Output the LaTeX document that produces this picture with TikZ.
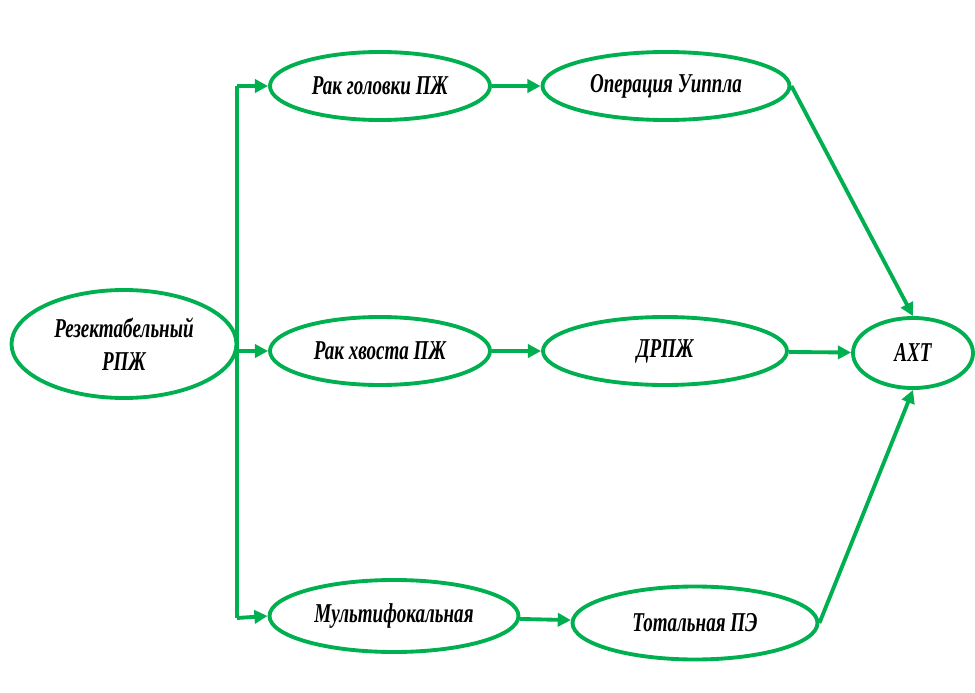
\documentclass[tikz,border=0pt]{standalone}
\usepackage{fontspec}
\setmainfont{Liberation Serif}[FakeStretch=0.7]
\usetikzlibrary{shapes.geometric,arrows.meta}
\definecolor{schemeGreen}{HTML}{00B050}

\begin{document}
\begin{tikzpicture}
[x=0.02cm,y=-0.02cm,
  nodeDecorate/.style={shape=ellipse,inner sep=0pt,draw=schemeGreen,line width=2.2pt,
    align=center,font=\bfseries\itshape\fontsize{15.5}{19}\selectfont},%
  lineDecorate/.style={-{Triangle[length=7.5pt,width=7.5pt]},draw=schemeGreen,line width=2.2pt}]
\useasboundingbox (0,0) rectangle (975,693);
%% nodes or vertices
\foreach \nodename/\x/\y/\w/\h/\txt in {
  rpj/124/344/225/108/{Резектабельный\\РПЖ},
  headPJ/380/86/220/68/{Рак головки ПЖ},
  whipple/666/86/247/68/{Операция Уиппла},
  tailPJ/380/351/220/68/{Рак хвоста ПЖ},
  drpj/665/351/244/68/{ДРПЖ},
  axt/913/353/120/70/{АХТ},
  multi/394/616/249/72/{Мультифокальная},
  total/695/623/245/73/{Тотальная ПЭ}}
{
  \node (\nodename) at (\x,\y) [nodeDecorate,minimum width=\w*0.02cm,minimum height=\h*0.02cm] {\txt};
}
%% trunk points
\coordinate (trunkTop) at (237,86);
\coordinate (trunkMid) at (237,351);
\coordinate (trunkBot) at (237,618);
\draw[schemeGreen,line width=2.2pt] (trunkTop) -- (trunkBot);
%% edges or lines
\path
\foreach \startnode/\endnode in {
  trunkTop/headPJ.west, trunkMid/tailPJ.west, trunkBot/multi.west,
  headPJ/whipple, tailPJ/drpj, drpj/axt, multi/total,
  whipple.east/axt.north, total.east/axt.south}
{
  (\startnode) edge[lineDecorate] (\endnode)
};
\end{tikzpicture}
\end{document}
